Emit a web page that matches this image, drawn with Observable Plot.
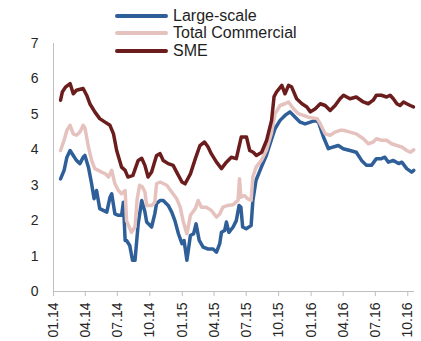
<!DOCTYPE html>
<html>
<head>
<meta charset="utf-8">
<script src="https://cdn.jsdelivr.net/npm/d3@7"></script>
<script src="https://cdn.jsdelivr.net/npm/@observablehq/plot@0.6"></script>
<style>
  html, body { margin: 0; padding: 0; background: #fff; }
  #chart { position: relative; width: 421px; height: 341px; font-family: "Liberation Sans", Arial, sans-serif; }
  #legend { position: absolute; left: 115px; top: 7px; color: #1e1e1e; font-size: 16px; }
  #legend .row { display: flex; align-items: center; height: 17.5px; }
  #legend .swatch { width: 53px; height: 4px; border-radius: 2px; margin-right: 5px; }
</style>
</head>
<body>
<div id="chart"><div id="legend"></div></div>
<script>
// Series names and colours
const seriesNames = ["Large-scale", "Total Commercial", "SME"];
const seriesColors = ["#2f5f98", "#e6c2bf", "#6b1d1d"];

// Quarterly axis ticks
const tickDates = ["2014-01-01","2014-04-01","2014-07-01","2014-10-01","2015-01-01","2015-04-01",
  "2015-07-01","2015-10-01","2016-01-01","2016-04-01","2016-07-01","2016-10-01"];
const yTicks = [0, 1, 2, 3, 4, 5, 6, 7];

// Large-scale enterprises, %
const largeScale = [
  ["2014-01-21",3.18],["2014-01-31",3.42],["2014-02-08",3.79],["2014-02-17",3.98],["2014-02-26",3.84],
  ["2014-03-07",3.70],["2014-03-17",3.61],["2014-03-26",3.79],["2014-03-31",3.84],["2014-04-10",3.51],
  ["2014-04-19",3.04],["2014-04-26",2.62],["2014-05-03",2.85],["2014-05-08",2.57],["2014-05-12",2.34],
  ["2014-05-22",2.29],["2014-06-01",2.24],["2014-06-10",2.66],["2014-06-15",2.76],["2014-06-24",2.19],
  ["2014-07-04",2.15],["2014-07-13",2.15],["2014-07-18",2.52],["2014-07-23",1.44],["2014-07-27",1.44],
  ["2014-08-05",1.30],["2014-08-13",0.88],["2014-08-20",0.88],["2014-08-29",1.91],["2014-09-08",2.57],
  ["2014-09-17",2.25],["2014-09-22",1.96],["2014-10-06",1.82],["2014-10-15",2.19],["2014-10-20",2.48],
  ["2014-10-30",2.57],["2014-11-08",2.57],["2014-11-22",2.43],["2014-12-02",2.24],["2014-12-11",2.00],
  ["2014-12-21",1.63],["2014-12-31",1.35],["2015-01-06",1.44],["2015-01-14",0.88],["2015-01-24",1.58],
  ["2015-02-02",1.63],["2015-02-09",1.91],["2015-02-18",1.44],["2015-03-01",1.25],["2015-03-15",1.20],
  ["2015-03-29",1.20],["2015-04-08",1.11],["2015-04-17",1.35],["2015-04-22",1.67],["2015-05-01",1.72],
  ["2015-05-06",1.96],["2015-05-13",1.67],["2015-05-25",1.82],["2015-06-03",2.00],["2015-06-11",2.43],
  ["2015-06-16",2.38],["2015-06-21",1.82],["2015-07-01",1.77],["2015-07-15",1.86],["2015-07-20",2.57],
  ["2015-07-29",3.14],["2015-08-13",3.51],["2015-08-27",3.84],["2015-09-10",4.27],["2015-09-21",4.60],
  ["2015-10-05",4.83],["2015-10-19",4.97],["2015-11-02",5.07],["2015-11-17",4.92],["2015-12-01",4.78],
  ["2015-12-15",4.73],["2015-12-30",4.78],["2016-01-13",4.83],["2016-01-22",4.78],["2016-02-05",4.36],
  ["2016-02-19",4.03],["2016-03-04",4.08],["2016-03-18",4.12],["2016-04-01",4.03],["2016-04-20",3.98],
  ["2016-05-08",3.93],["2016-05-23",3.70],["2016-06-06",3.56],["2016-06-20",3.56],["2016-07-04",3.75],
  ["2016-07-18",3.75],["2016-07-28",3.79],["2016-08-07",3.65],["2016-08-21",3.70],["2016-09-05",3.61],
  ["2016-09-14",3.65],["2016-09-28",3.47],["2016-10-12",3.37],["2016-10-18",3.42]
];

// Total commercial lending, %
const totalCommercial = [
  ["2014-01-21",3.98],["2014-01-31",4.27],["2014-02-08",4.55],["2014-02-17",4.69],["2014-02-26",4.45],
  ["2014-03-07",4.41],["2014-03-17",4.50],["2014-03-26",4.69],["2014-03-31",4.62],["2014-04-10",4.08],
  ["2014-04-19",3.70],["2014-04-28",3.47],["2014-05-08",3.42],["2014-05-17",3.37],["2014-05-27",3.33],
  ["2014-06-06",3.23],["2014-06-15",3.42],["2014-06-24",3.04],["2014-07-04",2.85],["2014-07-13",2.76],
  ["2014-07-23",2.85],["2014-07-27",2.00],["2014-08-10",1.67],["2014-08-20",1.82],["2014-08-26",2.60],
  ["2014-09-02",3.00],["2014-09-10",2.95],["2014-09-17",2.81],["2014-09-22",2.43],["2014-10-06",2.43],
  ["2014-10-15",2.52],["2014-10-20",3.04],["2014-10-30",3.09],["2014-11-18",3.00],["2014-12-02",2.81],
  ["2014-12-16",2.62],["2014-12-26",2.38],["2015-01-04",1.96],["2015-01-14",1.63],["2015-01-24",2.15],
  ["2015-02-07",2.34],["2015-02-15",2.57],["2015-02-24",2.38],["2015-03-10",2.38],["2015-03-24",2.29],
  ["2015-04-08",2.10],["2015-04-17",2.19],["2015-04-26",2.38],["2015-05-10",2.43],["2015-05-25",2.45],
  ["2015-06-08",2.57],["2015-06-12",3.18],["2015-06-16",2.66],["2015-06-26",2.71],["2015-07-05",2.62],
  ["2015-07-15",2.57],["2015-07-20",3.23],["2015-07-29",3.51],["2015-08-13",3.70],["2015-08-27",3.98],
  ["2015-09-10",4.45],["2015-09-21",5.02],["2015-10-05",5.25],["2015-10-19",5.30],["2015-10-29",5.35],
  ["2015-11-12",5.16],["2015-11-26",5.02],["2015-12-10",4.97],["2015-12-24",4.92],["2016-01-18",4.88],
  ["2016-01-27",4.73],["2016-02-10",4.45],["2016-02-24",4.41],["2016-03-09",4.50],["2016-03-23",4.55],
  ["2016-04-01",4.55],["2016-04-20",4.50],["2016-05-08",4.45],["2016-05-28",4.31],["2016-06-11",4.17],
  ["2016-06-25",4.22],["2016-07-04",4.31],["2016-07-18",4.27],["2016-08-02",4.27],["2016-08-16",4.17],
  ["2016-08-31",4.12],["2016-09-14",4.08],["2016-09-28",3.98],["2016-10-08",3.93],["2016-10-18",4.00]
];

// Small and medium-sized enterprises, %
const sme = [
  ["2014-01-21",5.40],["2014-01-26",5.63],["2014-02-04",5.77],["2014-02-17",5.87],["2014-02-26",5.58],
  ["2014-03-07",5.68],["2014-03-26",5.73],["2014-04-05",5.54],["2014-04-14",5.30],["2014-04-28",5.07],
  ["2014-05-12",4.88],["2014-05-27",4.78],["2014-06-10",4.69],["2014-06-20",4.45],["2014-06-29",3.98],
  ["2014-07-13",3.51],["2014-07-23",3.42],["2014-07-31",3.23],["2014-08-14",3.28],["2014-08-29",3.70],
  ["2014-09-08",3.76],["2014-09-17",3.56],["2014-09-26",3.23],["2014-10-06",3.37],["2014-10-20",3.84],
  ["2014-10-30",3.89],["2014-11-08",3.70],["2014-11-22",3.61],["2014-12-06",3.56],["2014-12-16",3.37],
  ["2014-12-31",3.09],["2015-01-09",3.04],["2015-01-24",3.32],["2015-02-07",3.75],["2015-02-20",4.12],
  ["2015-03-05",4.22],["2015-03-15",4.08],["2015-03-24",3.89],["2015-04-08",3.65],["2015-04-22",3.47],
  ["2015-05-06",3.65],["2015-05-20",3.79],["2015-06-03",3.75],["2015-06-17",4.36],["2015-07-02",4.36],
  ["2015-07-11",3.98],["2015-07-21",3.93],["2015-07-30",3.84],["2015-08-14",3.93],["2015-08-28",4.27],
  ["2015-09-11",4.83],["2015-09-18",5.50],["2015-09-25",5.63],["2015-10-10",5.82],["2015-10-19",5.58],
  ["2015-10-29",5.82],["2015-11-07",5.77],["2015-11-21",5.44],["2015-12-06",5.30],["2015-12-20",5.21],
  ["2015-12-30",5.07],["2016-01-13",5.16],["2016-01-27",5.30],["2016-02-10",5.25],["2016-02-24",5.11],
  ["2016-03-09",5.25],["2016-03-23",5.44],["2016-04-02",5.54],["2016-04-20",5.44],["2016-05-08",5.49],
  ["2016-05-28",5.35],["2016-06-11",5.30],["2016-06-25",5.40],["2016-07-04",5.54],["2016-07-18",5.54],
  ["2016-08-02",5.49],["2016-08-12",5.54],["2016-08-21",5.44],["2016-08-31",5.30],["2016-09-09",5.25],
  ["2016-09-19",5.35],["2016-09-28",5.30],["2016-10-08",5.25],["2016-10-17",5.21]
];

const seriesData = [largeScale, totalCommercial, sme];
const rows = seriesData.flatMap((s, i) =>
  s.map(([d, v]) => ({date: new Date(d), value: v, series: seriesNames[i]})));

const xStart = new Date("2014-01-01");
const xEnd = new Date("2016-10-20");
const axisGrey = "#bfbfbf";

const chart = Plot.plot({
  width: 421,
  height: 341,
  marginLeft: 53,
  marginRight: 7,
  marginTop: 43,
  marginBottom: 50,
  style: {fontFamily: "'Liberation Sans', Arial, sans-serif", fontSize: "14px", color: "#262626", background: "#fff"},
  x: {type: "utc", domain: [xStart, xEnd]},
  y: {domain: [0, 7]},
  color: {domain: seriesNames, range: seriesColors},
  marks: [
    Plot.ruleX([xStart], {stroke: axisGrey, strokeWidth: 1}),
    Plot.ruleY([0], {stroke: axisGrey, strokeWidth: 1}),
    Plot.axisY({ticks: yTicks, tickFormat: d3.format("d"), tickSize: 0, tickPadding: 15, label: null, fill: "#262626"}),
    Plot.axisX({ticks: tickDates.map(d => new Date(d)), tickFormat: d3.utcFormat("%m.%y"),
      tickRotate: -90, tickSize: 5, tickPadding: 6, stroke: axisGrey, fill: "#262626", label: null}),
    Plot.line(rows, {x: "date", y: "value", z: "series", stroke: "series",
      strokeWidth: 3.5, strokeLinejoin: "round", strokeLinecap: "round", curve: "linear"})
  ]
});

const root = document.getElementById("chart");
root.insertBefore(chart, root.firstChild);

// Legend: line swatch + label for each series
const legend = d3.select("#legend");
seriesNames.forEach((name, i) => {
  const row = legend.append("div").attr("class", "row");
  row.append("div").attr("class", "swatch").style("background", seriesColors[i]);
  row.append("span").text(name);
});
</script>
</body>
</html>
